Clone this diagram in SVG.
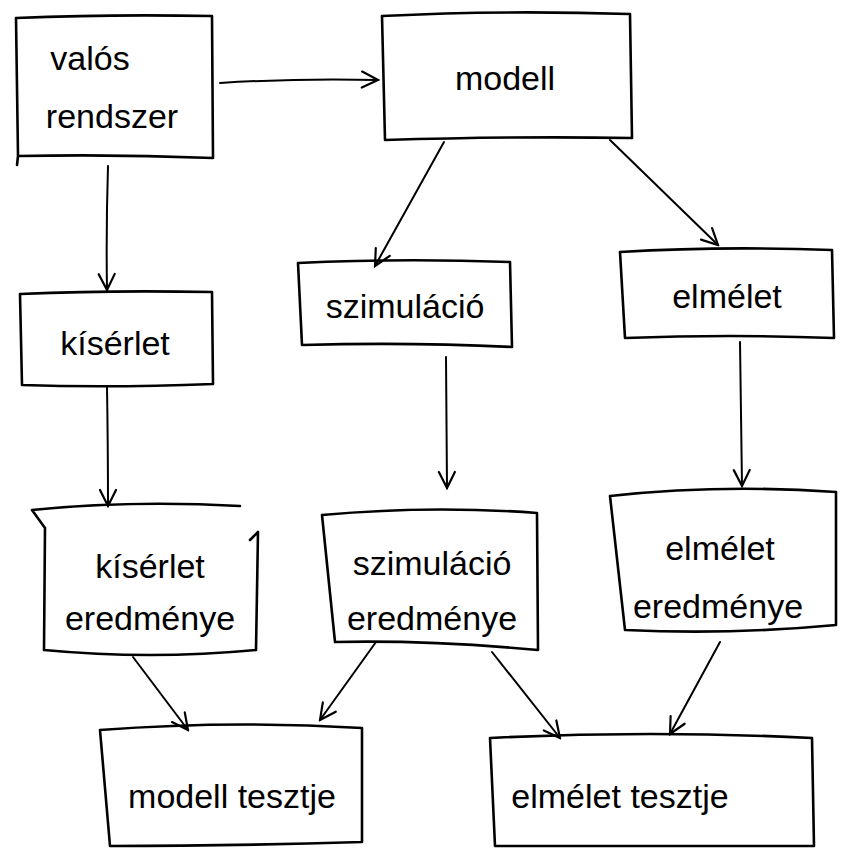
<svg xmlns="http://www.w3.org/2000/svg" width="842" height="851" viewBox="0 0 842 851">
<defs>
<style>
.box{fill:none;stroke:#000;stroke-width:2.6;stroke-linejoin:round;stroke-linecap:round}
.t{font-family:"Liberation Sans","DejaVu Sans",sans-serif;font-size:34px;fill:#000;text-anchor:middle}
.c{fill:none;stroke:#000;stroke-width:2;stroke-linecap:round}
</style>
<marker id="ah" viewBox="0 0 20 20" refX="18" refY="10" markerWidth="20" markerHeight="20" markerUnits="userSpaceOnUse" orient="auto">
<path d="M2,2 L18,10 L2,18" fill="none" stroke="#000" stroke-width="2.2" stroke-linecap="round"/>
</marker>
</defs>
<rect width="842" height="851" fill="#fff"/>
<g id="valos">
<path class="box" d="M16,18 Q110,14 212,16 L213,158 Q115,154 18,156 L17,165 M18,156 L16,18"/>
<text class="t" x="90" y="70">valós</text>
<text class="t" x="112" y="128">rendszer</text>
</g>
<g id="modell">
<path class="box" d="M382,16 Q500,10 630,14 L632,138 Q520,136 385,140 L382,16"/>
<text class="t" x="505" y="90" font-size="40">modell</text>
</g>
<g id="kiserlet">
<path class="box" d="M20,294 Q110,290 212,292 L213,384 Q110,388 22,385 L20,294"/>
<text class="t" x="115" y="355">kísérlet</text>
</g>
<g id="szimulacio">
<path class="box" d="M298,263 Q400,258 510,262 L512,347 Q410,342 302,345 L298,263"/>
<text class="t" x="405" y="318" font-size="32">szimuláció</text>
</g>
<g id="elmelet">
<path class="box" d="M620,252 Q720,246 832,250 L834,338 Q730,334 625,338 L620,252"/>
<text class="t" x="727" y="308" font-size="32">elmélet</text>
</g>
<g id="kiserlet_eredmenye">
<path class="box" d="M32,510 Q130,500 240,506 M250,540 L258,532 L256,650 Q150,660 44,650 L45,528 L32,510"/>
<text class="t" x="150" y="578">kísérlet</text>
<text class="t" x="150" y="630" font-size="32">eredménye</text>
</g>
<g id="szimulacio_eredmenye">
<path class="box" d="M322,515 Q430,505 537,513 L538,650 Q430,640 335,642 L322,515"/>
<text class="t" x="432" y="575" font-size="32">szimuláció</text>
<text class="t" x="432" y="630" font-size="32">eredménye</text>
</g>
<g id="elmelet_eredmenye">
<path class="box" d="M610,496 Q720,484 836,492 L836,625 Q730,635 625,630 L610,496"/>
<text class="t" x="720" y="560" font-size="32">elmélet</text>
<text class="t" x="718" y="618" font-size="32">eredménye</text>
</g>
<g id="modell_tesztje">
<path class="box" d="M100,730 Q230,720 362,728 L362,842 Q230,846 110,846 L100,730"/>
<text class="t" x="232" y="808">modell tesztje</text>
</g>
<g id="elmelet_tesztje">
<path class="box" d="M490,738 Q650,730 812,738 L814,846 Q650,846 495,846 L490,738"/>
<text class="t" x="620" y="808">elmélet tesztje</text>
</g>
<g id="connectors">
<path class="c" marker-end="url(#ah)" d="M220,83 Q300,78 378,80"/>
<path class="c" marker-end="url(#ah)" d="M108,166 Q106,230 107,290"/>
<path class="c" marker-end="url(#ah)" d="M444,142 L375,266"/>
<path class="c" marker-end="url(#ah)" d="M610,140 L718,245"/>
<path class="c" marker-end="url(#ah)" d="M107,387 Q108,450 108,506"/>
<path class="c" marker-end="url(#ah)" d="M446,357 L447,488"/>
<path class="c" marker-end="url(#ah)" d="M740,342 Q741,420 742,486"/>
<path class="c" marker-end="url(#ah)" d="M133,657 L188,730"/>
<path class="c" marker-end="url(#ah)" d="M376,642 L320,720"/>
<path class="c" marker-end="url(#ah)" d="M492,652 L560,738"/>
<path class="c" marker-end="url(#ah)" d="M720,642 L670,734"/>
</g>
</svg>
